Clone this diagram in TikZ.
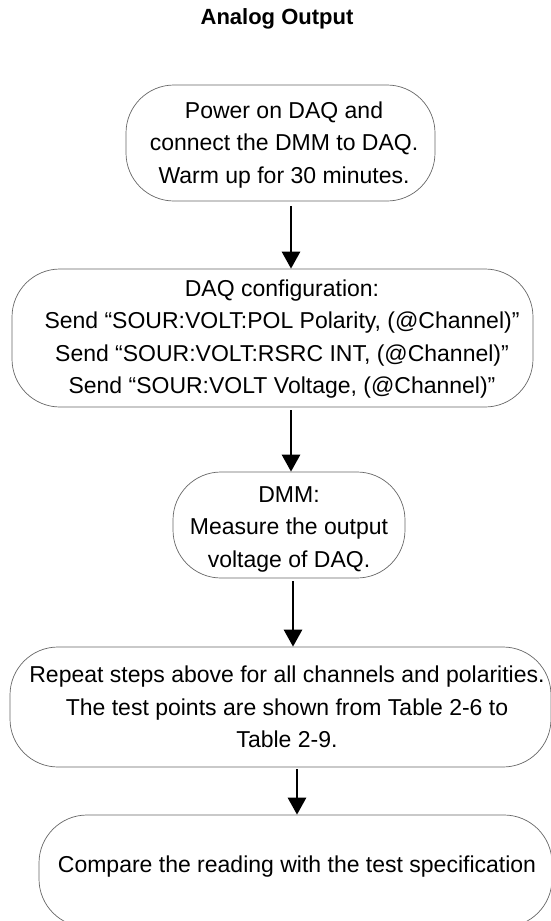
\documentclass[tikz,border=0pt]{standalone}
\usepackage{fontspec}
\setmainfont{Liberation Sans}
\usetikzlibrary{arrows.meta}
\begin{document}
\begin{tikzpicture}[x=1pt,y=-1pt,
  flowbox/.style={draw=black!60, line width=0.7pt, rounded corners=48pt, inner sep=0pt},
  boxtext/.style={align=center, font=\fontsize{23}{32.5}\selectfont, inner sep=0pt},
  flowarrow/.style={line width=2.8pt, -{Triangle[width=18pt,length=17pt]}}]
\useasboundingbox (0,0) rectangle (551,921);
\node[font=\fontsize{22}{26}\selectfont\bfseries] (title) at (277,19) {Analog Output};

\node[flowbox, minimum width=309pt, minimum height=116pt] (b1) at (280.5,143) {};
\node[flowbox, minimum width=521pt, minimum height=138pt] (b2) at (272.5,338) {};
\node[flowbox, minimum width=232pt, minimum height=106pt] (b3) at (289,525) {};
\node[flowbox, minimum width=541pt, minimum height=120pt] (b4) at (280.5,707) {};
\node[flowbox, minimum width=513pt, minimum height=112pt] (b5) at (295.5,871) {};

\node[boxtext] (t1) at (284,145) {Power on DAQ and\\connect the DMM to DAQ.\\Warm up for 30 minutes.};
\node[boxtext] (t2) at (282,339) {DAQ configuration:\\Send “SOUR:VOLT:POL Polarity, (@Channel)”\\Send “SOUR:VOLT:RSRC INT, (@Channel)”\\Send “SOUR:VOLT Voltage, (@Channel)”};
\node[boxtext] (t3) at (289,529) {DMM:\\Measure the output\\voltage of DAQ.};
\node[boxtext] (t4) at (287,707) {Repeat steps above for all channels and polarities.\\The test points are shown from Table 2-6 to\\Table 2-9.};
\node[boxtext] (t5) at (297,867) {Compare the reading with the test specification};

\draw[flowarrow] ([xshift=10.5pt,yshift=-5pt]b1.south) -- ([xshift=10.5pt]b1.south |- b2.north);
\draw[flowarrow] ([xshift=18.5pt,yshift=-3pt]b2.south) -- ([xshift=18.5pt]b2.south |- b3.north);
\draw[flowarrow] ([xshift=4pt,yshift=-3pt]b3.south) -- ([xshift=4pt]b3.south |- b4.north);
\draw[flowarrow] ([xshift=16.5pt,yshift=-2pt]b4.south) -- ([xshift=16.5pt]b4.south |- b5.north);
\end{tikzpicture}
\end{document}
